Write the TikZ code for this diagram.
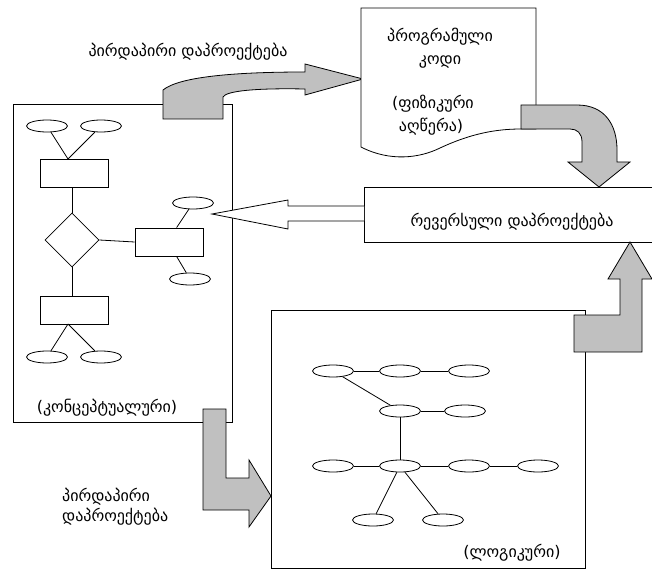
\documentclass[tikz,border=0pt]{standalone}
\usepackage{fontspec}
\newfontfamily\geo{DejaVu Sans}
\usetikzlibrary{shapes.geometric}
\definecolor{arrowgray}{RGB}{192,192,192}
\tikzset{
  line/.style={draw=black, line width=0.8pt},
  frame/.style={draw=black, line width=0.8pt},
  garrow/.style={fill=arrowgray, draw=black, line width=0.8pt, line join=miter},
  warrow/.style={fill=white, draw=black, line width=0.8pt},
  ell/.style={ellipse, draw=black, line width=0.8pt, minimum width=41pt, minimum height=12pt, inner sep=0pt},
  ent/.style={rectangle, draw=black, line width=0.8pt, minimum width=68pt, minimum height=28pt, inner sep=0pt},
  rel/.style={diamond, draw=black, line width=0.8pt, minimum width=54pt, minimum height=54pt, inner sep=0pt},
  txt/.style={font=\geo\fontsize{16}{18}\selectfont, inner sep=0pt}
}
\begin{document}
\begin{tikzpicture}[x=1pt, y=-1pt]
\useasboundingbox (0,0) rectangle (652,569);

% ---------- conceptual box ----------
\draw[frame] (13,104) rectangle (232,422);
\node[ell] (c1) at (47,126) {};
\node[ell] (c2) at (101,126) {};
\node[ent] (e1) at (74,173) {};
\node[rel] (d1) at (72,240) {};
\node[ent] (e2) at (169,242) {};
\node[ell] (c3) at (193,203) {};
\node[ell] (c4) at (190,279) {};
\node[ent] (e3) at (74,310) {};
\node[ell] (c5) at (47,357) {};
\node[ell] (c6) at (101,357) {};
\coordinate (e1t) at (68,159);
\coordinate (e3b) at (68,324);
\draw[line] (c1) -- (e1t);
\draw[line] (c2) -- (e1t);
\draw[line] (e1.south -| d1.north) -- (d1.north);
\draw[line] (d1.east) -- (e2.west);
\draw[line] (d1.south) -- (e3.north -| d1.south);
\draw[line] (e2.north west) ++(42,0) coordinate (e2t) -- (c3);
\draw[line] (e2.south west) ++(42,0) coordinate (e2b) -- (c4);
\draw[line] (e3b) -- (c5);
\draw[line] (e3b) -- (c6);
\node[txt] (lconc) at (107,408) {(კონცეპტუალური)};

% ---------- top arrow ----------
\node[txt] (ttop) at (188,52) {პირდაპირი დაპროექტება};
\draw[garrow] (163,119) -- (163,90) .. controls (180,76) and (240,72) .. (305,72)
  -- (305,64) -- (363,79) -- (305,95) -- (305,89)
  .. controls (255,88) and (226,91) .. (223,97) -- (223,119) -- cycle;

% ---------- program code document ----------
\draw[frame, fill=white] (361,8) -- (536,8) -- (536,129) -- (521,129)
  .. controls (495,129) and (470,134) .. (440,148)
  .. controls (420,158) and (390,162) .. (361,147) -- cycle;
\node[txt] (p1) at (440,37) {პროგრამული};
\node[txt] (p2) at (440,62) {კოდი};
\node[txt] (p3) at (433,104) {(ფიზიკური};
\node[txt] (p4) at (431,127) {აღწერა)};

% ---------- down curved arrow ----------
\draw[garrow] (521,105) -- (577,105) .. controls (605,105) and (617,125) .. (617,150)
  -- (617,162) -- (630,162) -- (599,187) -- (568,162) -- (582,162) -- (582,142)
  .. controls (582,133) and (577,129) .. (570,129) -- (521,129) -- cycle;

% ---------- reverse box ----------
\draw[frame] (364,187) rectangle (670,242);
\node[txt] (rev) at (512,222) {რევერსული დაპროექტება};

% ---------- hollow arrow to the left ----------
\draw[warrow] (364,206) -- (288,206) -- (288,200) -- (212,214) -- (288,229) -- (288,221) -- (364,221);

% ---------- logical box ----------
\draw[frame] (271,310) rectangle (585,568);
\node[ell] (r1a) at (333,371) {};
\node[ell] (r1b) at (400,371) {};
\node[ell] (r1c) at (469,371) {};
\node[ell] (r2a) at (400,411) {};
\node[ell] (r2b) at (465,411) {};
\node[ell] (r3a) at (333,466) {};
\node[ell] (r3b) at (400,466) {};
\node[ell] (r3c) at (469,466) {};
\node[ell] (r3d) at (538,466) {};
\node[ell] (r4a) at (373,520) {};
\node[ell] (r4b) at (443,520) {};
\draw[line] (r1a) -- (r1b);
\draw[line] (r1b) -- (r1c);
\draw[line] (r1a) -- (r2a);
\draw[line] (r2a) -- (r2b);
\draw[line] (r2a) -- (r3b);
\draw[line] (r3a) -- (r3b);
\draw[line] (r3b) -- (r3c);
\draw[line] (r3c) -- (r3d);
\draw[line] (r3b) -- (r4a);
\draw[line] (r3b) -- (r4b);
\node[txt] (llog) at (512,553) {(ლოგიკური)};

% ---------- up arrow ----------
\draw[garrow] (574,352) -- (574,315) -- (620,315) -- (620,279) -- (608,279)
  -- (630,242) -- (652,279) -- (642,279) -- (642,352) -- cycle;

% ---------- bottom L arrow ----------
\draw[garrow] (203,409) -- (226,409) -- (226,478) -- (249,478) -- (249,460)
  -- (271,496) -- (249,527) -- (249,510) -- (203,510) -- cycle;
\node[txt, anchor=west] (b1) at (62,497) {პირდაპირი};
\node[txt, anchor=west] (b2) at (62,517) {დაპროექტება};
\end{tikzpicture}
\end{document}
